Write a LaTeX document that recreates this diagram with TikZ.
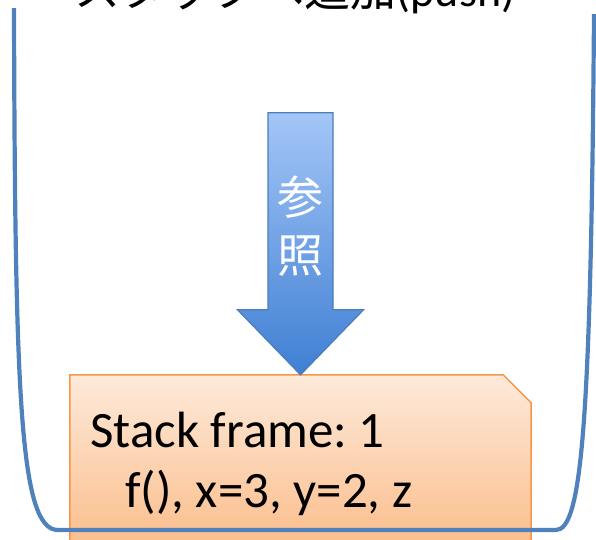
\documentclass[tikz,border=0pt]{standalone}
\usepackage{fontspec}
\setmainfont{Carlito}
\newfontfamily\jpfont{Noto Sans CJK JP}
\usetikzlibrary{calc}
\definecolor{Bucket}  {HTML}{4F81BD}
\definecolor{ArrTop}  {HTML}{A4C6F7}
\definecolor{ArrBot}  {HTML}{3F7FD3}
\definecolor{ArrLine} {HTML}{4A7EBB}
\definecolor{FrameLn} {HTML}{F79646}
\definecolor{FrameTop}{HTML}{FDEADA}
\definecolor{FrameBot}{HTML}{FBBE8C}
\tikzset{
  bucket/.style={
    draw=Bucket, line width=4.2pt, line join=round,
  },
  refarr/.style={
    draw=ArrLine, line width=1.2pt,
    top color=ArrTop, bottom color=ArrBot,
  },
  framearea/.style={
    rectangle, inner sep=0pt, minimum width=461pt, minimum height=170pt,
  },
  framebox/.style={
    draw=FrameLn, line width=1.5pt,
    top color=FrameTop, bottom color=FrameBot,
  },
  frametxt/.style={
    font=\fontsize{51}{53}\selectfont, inner sep=0pt, anchor=base west,
  },
  ttl/.style={
    font=\fontsize{46}{48}\selectfont, inner sep=0pt, anchor=base,
  },
  reftxt/.style={
    font=\jpfont\fontsize{46}{58}\selectfont, text=white,
    align=center, inner sep=0pt,
  },
}
\begin{document}
\begin{tikzpicture}[x=1pt,y=-1pt]
  \useasboundingbox (0,0) rectangle (596,539);
  \node[ttl] (title) at (295,6) {{\jpfont スタックへ追加}(push)};
  % stack frame
  \node[framearea] (frame) at (300.5,460) {};
  \shade[framebox] (frame.north west) -- ($(frame.north east)+(-28,0)$)
    -- ($(frame.north east)+(0,28)$) -- (frame.south east)
    -- (frame.south west) -- cycle;
  \node[frametxt] (fr1) at (90,447) {Stack frame:\ 1};
  \node[frametxt] (fr2) at (125,507) {f(), x=3, y=2, z};
  % reference arrow
  \coordinate (tip) at (frame.north);
  \shade[refarr] (tip) -- ++(-63,-65) -- ++(30.5,0) -- ++(0,-197)
    -- ++(65,0) -- ++(0,197) -- ++(30.5,0) -- cycle;
  \node[reftxt] (reflbl) at (300,226) {参\\照};
  % stack bucket
  \draw[bucket] (14,8) .. controls (15,400) and (20,530) .. (58,530)
    -- (556,530) .. controls (582,530) and (591,420) .. (594,14);
\end{tikzpicture}
\end{document}
